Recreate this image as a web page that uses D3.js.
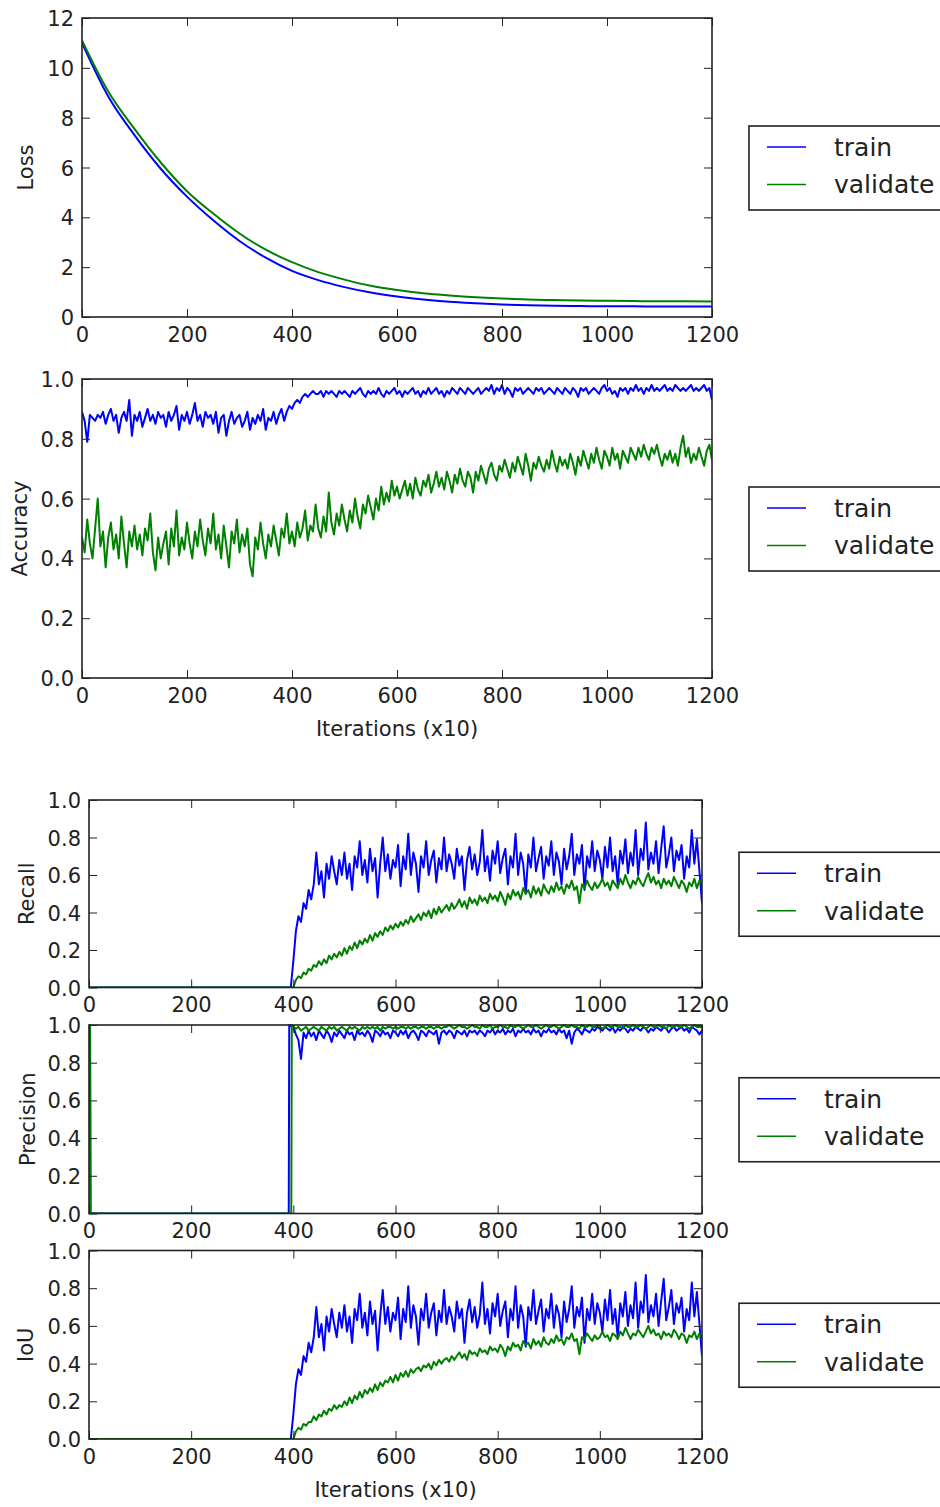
<!DOCTYPE html>
<html>
<head>
<meta charset="utf-8">
<script src="https://cdnjs.cloudflare.com/ajax/libs/d3/7.8.5/d3.min.js"></script>
<style>
body { margin: 0; background: #fff; }
svg { display: block; font-family: "DejaVu Sans", sans-serif; }
</style>
</head>
<body>
<div id="chart"></div>
<script>
// ---- data ----
var xTicks = [0, 200, 400, 600, 800, 1000, 1200];
var seriesNames = ["train", "validate"];

// loss, every 50 iterations
var lossIters = d3.range(0, 1201, 50);
var lossTrain = [11.0, 8.85, 7.3, 5.95, 4.83, 3.88, 3.05, 2.38, 1.85, 1.48, 1.2, 0.98, 0.82, 0.7, 0.61, 0.55, 0.5, 0.47, 0.45, 0.44, 0.43, 0.43, 0.42, 0.42, 0.42];
var lossVal = [11.1, 9.05, 7.55, 6.2, 5.05, 4.15, 3.35, 2.7, 2.2, 1.8, 1.5, 1.25, 1.08, 0.95, 0.86, 0.79, 0.74, 0.7, 0.68, 0.66, 0.65, 0.64, 0.63, 0.63, 0.62];

// accuracy, every 5 iterations
var accIters = d3.range(0, 1201, 5);
var accTrain = [
0.89,0.86,0.79,0.88,0.87,0.86,0.88,0.87,0.89,0.85,0.88,0.90,0.86,0.88,0.82,0.87,0.89,0.86,0.93,0.81,
0.88,0.86,0.89,0.84,0.87,0.90,0.86,0.88,0.85,0.89,0.87,0.88,0.84,0.89,0.86,0.88,0.91,0.83,0.88,0.86,
0.89,0.85,0.88,0.92,0.86,0.88,0.84,0.89,0.87,0.88,0.85,0.89,0.82,0.87,0.88,0.81,0.86,0.89,0.85,0.87,
0.88,0.84,0.86,0.89,0.83,0.87,0.85,0.88,0.86,0.90,0.83,0.87,0.86,0.89,0.85,0.88,0.90,0.86,0.89,0.91,
0.90,0.92,0.93,0.92,0.94,0.95,0.94,0.95,0.96,0.95,
0.95,0.96,0.94,0.96,0.95,0.96,0.95,0.94,0.96,0.95,0.96,0.95,0.94,0.96,0.95,0.96,0.97,0.95,0.94,0.96,
0.95,0.96,0.95,0.97,0.95,0.94,0.96,0.95,0.96,0.97,0.95,0.96,0.94,0.96,0.95,0.96,0.97,0.95,0.96,0.94,
0.96,0.95,0.97,0.95,0.96,0.97,0.95,0.96,0.94,0.96,0.95,0.97,0.96,0.95,0.97,0.96,0.95,0.97,0.96,0.95,
0.96,0.97,0.95,0.96,0.97,0.96,0.98,0.95,0.97,0.96,0.98,0.95,0.97,0.96,0.94,0.97,0.96,0.97,0.95,0.96,
0.97,0.96,0.95,0.97,0.96,0.97,0.95,0.96,0.97,0.96,0.95,0.97,0.96,0.95,0.97,0.96,0.95,0.97,0.96,0.94,
0.97,0.96,0.97,0.95,0.96,0.97,0.96,0.95,0.97,0.98,0.96,0.97,0.95,0.96,0.94,0.97,0.96,0.97,0.95,0.97,
0.96,0.98,0.96,0.97,0.95,0.97,0.96,0.98,0.96,0.97,0.96,0.97,0.98,0.96,0.97,0.96,0.98,0.97,0.96,0.97,
0.96,0.97,0.98,0.96,0.97,0.96,0.97,0.98,0.96,0.97,
0.93];
var accVal = [
0.47,0.42,0.53,0.45,0.40,0.50,0.60,0.44,0.49,0.37,0.47,0.52,0.43,0.48,0.40,0.54,0.45,0.37,0.49,0.44,
0.51,0.43,0.48,0.41,0.50,0.46,0.55,0.42,0.36,0.47,0.40,0.45,0.49,0.38,0.50,0.44,0.56,0.41,0.47,0.43,
0.52,0.45,0.40,0.49,0.44,0.53,0.46,0.41,0.50,0.45,0.55,0.43,0.48,0.40,0.51,0.44,0.37,0.49,0.45,0.53,
0.42,0.48,0.44,0.50,0.38,0.34,0.47,0.43,0.52,0.45,0.40,0.48,0.44,0.51,0.46,0.41,0.50,0.47,0.55,0.45,
0.49,0.44,0.52,0.47,0.50,0.56,0.46,0.51,0.49,0.58,0.50,0.47,0.54,0.49,0.62,0.52,0.48,0.55,0.51,0.58,
0.53,0.49,0.56,0.52,0.60,0.54,0.50,0.58,0.55,0.61,0.57,0.53,0.60,0.56,0.64,0.58,0.62,0.59,0.66,0.61,
0.64,0.60,0.63,0.66,0.61,0.65,0.60,0.67,0.63,0.61,0.66,0.64,0.68,0.62,0.65,0.69,0.64,0.67,0.63,0.69,
0.66,0.62,0.68,0.65,0.70,0.66,0.64,0.69,0.67,0.62,0.69,0.66,0.71,0.68,0.65,0.70,0.72,0.68,0.66,0.71,
0.69,0.73,0.70,0.67,0.72,0.69,0.74,0.71,0.68,0.75,0.71,0.66,0.72,0.70,0.74,0.71,0.69,0.73,0.70,0.76,
0.72,0.69,0.74,0.71,0.73,0.70,0.75,0.72,0.68,0.74,0.71,0.76,0.73,0.70,0.75,0.72,0.77,0.73,0.70,0.76,
0.74,0.71,0.77,0.73,0.75,0.70,0.76,0.74,0.72,0.77,0.75,0.73,0.77,0.74,0.78,0.75,0.73,0.77,0.75,0.78,
0.74,0.71,0.75,0.73,0.76,0.72,0.75,0.71,0.77,0.81,0.74,0.77,0.72,0.75,0.73,0.77,0.74,0.71,0.76,0.78,
0.73];

// recall / precision / IoU: flat part, then every 5 iterations from 400
var bodyIters = d3.range(400, 1201, 5);
var zeroIters = [0, 395];
var zeroVals = [0, 0];

var recallTrain = [
0.14,0.30,0.38,0.35,0.45,0.42,0.52,0.47,0.55,0.72,0.55,0.62,0.48,0.66,0.58,0.70,0.62,0.55,0.68,0.60,
0.72,0.58,0.66,0.52,0.70,0.64,0.78,0.60,0.68,0.56,0.74,0.62,0.69,0.48,0.66,0.80,0.62,0.71,0.58,0.68,
0.64,0.76,0.54,0.70,0.63,0.82,0.60,0.72,0.66,0.51,0.70,0.64,0.78,0.60,0.68,0.73,0.56,0.69,0.63,0.80,
0.62,0.71,0.66,0.58,0.74,0.65,0.70,0.52,0.68,0.75,0.63,0.71,0.60,0.67,0.84,0.62,0.70,0.57,0.73,0.66,
0.78,0.61,0.69,0.74,0.55,0.70,0.64,0.82,0.60,0.72,0.66,0.50,0.71,0.64,0.80,0.62,0.69,0.75,0.58,0.70,
0.65,0.78,0.60,0.72,0.67,0.55,0.74,0.63,0.70,0.82,0.60,0.71,0.66,0.76,0.52,0.70,0.64,0.78,0.62,0.73,
0.68,0.58,0.75,0.64,0.80,0.62,0.70,0.55,0.73,0.66,0.79,0.61,0.72,0.65,0.84,0.60,0.74,0.68,0.88,0.63,
0.72,0.66,0.78,0.61,0.74,0.86,0.64,0.71,0.80,0.62,0.73,0.68,0.76,0.58,0.70,0.64,0.84,0.66,0.79,0.62,
0.45];
var recallVal = [
0.00,0.04,0.06,0.05,0.08,0.07,0.10,0.09,0.12,0.11,0.14,0.12,0.15,0.13,0.17,0.15,0.18,0.16,0.19,0.17,
0.21,0.18,0.22,0.20,0.24,0.21,0.25,0.23,0.26,0.24,0.28,0.25,0.29,0.27,0.30,0.28,0.32,0.30,0.33,0.31,
0.34,0.32,0.35,0.33,0.36,0.34,0.38,0.35,0.37,0.39,0.36,0.40,0.38,0.41,0.37,0.42,0.39,0.43,0.40,0.42,
0.44,0.41,0.45,0.42,0.44,0.47,0.43,0.46,0.42,0.48,0.45,0.47,0.44,0.49,0.46,0.48,0.45,0.50,0.47,0.49,
0.46,0.51,0.48,0.44,0.50,0.47,0.52,0.49,0.51,0.47,0.53,0.50,0.52,0.48,0.54,0.50,0.53,0.49,0.55,0.52,
0.50,0.54,0.51,0.56,0.52,0.54,0.50,0.55,0.53,0.57,0.52,0.54,0.45,0.55,0.53,0.57,0.54,0.52,0.56,0.53,
0.55,0.58,0.54,0.56,0.52,0.57,0.55,0.53,0.58,0.55,0.60,0.56,0.53,0.57,0.55,0.59,0.56,0.54,0.58,0.61,
0.56,0.59,0.55,0.57,0.53,0.58,0.55,0.57,0.54,0.59,0.56,0.53,0.57,0.55,0.51,0.56,0.54,0.58,0.53,0.57,
0.55];

// precision: spike at the very start, flat zero, jump just before 400
var precTrainHeadIters = [0, 2, 3, 391, 392];
var precValHeadIters = [0, 2, 3, 396, 397];
var precHeadVals = [1, 1, 0, 0, 1];
var precTrain = [
0.99,0.95,0.92,0.82,0.96,0.93,0.97,0.94,0.96,0.92,0.97,0.95,0.93,0.97,0.95,0.91,0.96,0.94,0.97,0.95,
0.93,0.97,0.95,0.96,0.92,0.97,0.95,0.96,0.94,0.97,0.95,0.91,0.97,0.96,0.94,0.97,0.95,0.96,0.93,0.97,
0.96,0.94,0.97,0.95,0.97,0.93,0.96,0.97,0.95,0.92,0.97,0.96,0.94,0.97,0.96,0.95,0.97,0.90,0.96,0.97,
0.95,0.97,0.96,0.93,0.97,0.96,0.95,0.97,0.94,0.97,0.96,0.97,0.95,0.97,0.96,0.94,0.97,0.96,0.98,0.95,
0.97,0.96,0.98,0.95,0.97,0.96,0.98,0.94,0.97,0.96,0.98,0.96,0.97,0.95,0.98,0.96,0.97,0.94,0.97,0.96,
0.98,0.96,0.97,0.95,0.98,0.96,0.97,0.93,0.97,0.90,0.96,0.98,0.97,0.95,0.98,0.97,0.96,0.98,0.97,0.99,
0.98,0.97,0.99,0.98,0.97,0.99,0.96,0.98,0.97,0.99,0.98,0.96,0.98,0.97,0.99,0.98,0.97,0.99,0.98,0.96,
0.98,0.97,0.99,0.98,0.97,0.99,0.98,0.96,0.98,0.99,0.97,0.98,0.99,0.97,0.98,0.96,0.99,0.98,0.97,0.95,
0.97];
var precVal = [
0.99,0.98,0.99,0.97,0.98,0.99,0.97,0.98,0.99,0.98,0.97,0.99,0.98,0.97,0.99,0.98,0.99,0.97,0.98,0.99,
0.98,0.97,0.99,0.98,0.99,0.98,0.97,0.99,0.98,0.99,0.98,0.99,0.98,0.99,0.97,0.99,0.98,0.99,0.99,0.98,
0.99,0.98,0.99,0.99,0.98,0.99,0.98,0.99,0.99,0.98,0.99,0.99,0.98,0.99,0.99,0.98,0.99,0.99,0.98,0.99,
0.99,1.00,0.99,0.98,0.99,1.00,0.99,0.99,0.98,0.99,1.00,0.99,0.99,0.98,1.00,0.99,0.99,1.00,0.98,0.99,
0.99,1.00,0.99,0.99,0.98,1.00,0.99,0.99,1.00,0.99,0.98,0.99,1.00,0.99,0.99,1.00,0.99,0.98,0.99,1.00,
0.99,0.99,1.00,0.99,0.98,0.99,1.00,0.99,0.99,1.00,0.99,0.99,0.98,1.00,0.99,0.99,1.00,0.99,0.99,1.00,
0.99,0.98,0.99,1.00,0.99,0.99,1.00,0.99,0.99,0.98,1.00,0.99,0.99,1.00,0.99,0.99,1.00,0.99,0.98,0.99,
1.00,0.99,0.99,1.00,0.99,0.99,0.98,1.00,0.99,0.99,1.00,0.99,0.99,1.00,0.99,0.98,0.99,1.00,0.99,0.99,
0.99];

var iouTrain = [
0.13,0.29,0.37,0.34,0.44,0.41,0.51,0.46,0.54,0.70,0.54,0.61,0.47,0.65,0.57,0.69,0.61,0.54,0.67,0.59,
0.71,0.57,0.65,0.51,0.69,0.63,0.77,0.59,0.67,0.55,0.73,0.61,0.68,0.47,0.65,0.79,0.61,0.70,0.57,0.67,
0.63,0.75,0.53,0.69,0.62,0.81,0.59,0.71,0.65,0.50,0.69,0.63,0.77,0.59,0.67,0.72,0.55,0.68,0.62,0.79,
0.61,0.70,0.65,0.57,0.73,0.64,0.69,0.51,0.67,0.74,0.62,0.70,0.59,0.66,0.83,0.61,0.69,0.56,0.72,0.65,
0.77,0.60,0.68,0.73,0.54,0.69,0.63,0.81,0.59,0.71,0.65,0.49,0.70,0.63,0.79,0.61,0.68,0.74,0.57,0.69,
0.64,0.77,0.59,0.71,0.66,0.54,0.73,0.62,0.69,0.81,0.59,0.70,0.65,0.75,0.51,0.69,0.63,0.77,0.61,0.72,
0.67,0.57,0.74,0.63,0.79,0.61,0.69,0.54,0.72,0.65,0.78,0.60,0.71,0.64,0.83,0.59,0.73,0.67,0.87,0.62,
0.71,0.65,0.77,0.60,0.73,0.85,0.63,0.70,0.79,0.61,0.72,0.67,0.75,0.57,0.69,0.63,0.83,0.65,0.78,0.61,
0.44];
var iouVal = [
0.00,0.04,0.06,0.05,0.08,0.07,0.09,0.09,0.12,0.10,0.13,0.12,0.15,0.13,0.16,0.15,0.18,0.16,0.18,0.17,
0.20,0.18,0.22,0.19,0.23,0.21,0.25,0.22,0.26,0.24,0.27,0.25,0.29,0.26,0.30,0.28,0.31,0.30,0.33,0.30,
0.34,0.31,0.35,0.33,0.36,0.33,0.37,0.35,0.37,0.38,0.36,0.39,0.38,0.40,0.37,0.41,0.39,0.42,0.40,0.42,
0.43,0.41,0.44,0.42,0.44,0.46,0.43,0.45,0.42,0.47,0.45,0.46,0.44,0.48,0.46,0.47,0.45,0.49,0.47,0.48,
0.46,0.50,0.48,0.44,0.49,0.47,0.51,0.49,0.50,0.47,0.52,0.50,0.51,0.48,0.53,0.50,0.52,0.49,0.54,0.51,
0.50,0.53,0.51,0.55,0.52,0.53,0.50,0.54,0.53,0.56,0.52,0.53,0.45,0.54,0.53,0.56,0.54,0.52,0.55,0.53,
0.54,0.57,0.54,0.55,0.52,0.56,0.55,0.53,0.57,0.55,0.59,0.56,0.53,0.56,0.55,0.58,0.56,0.54,0.57,0.60,
0.56,0.58,0.55,0.56,0.53,0.57,0.55,0.56,0.54,0.58,0.56,0.53,0.56,0.55,0.51,0.55,0.54,0.57,0.53,0.56,
0.54];

// ---- drawing ----
var blue = "#0000ff", green = "#008000", ink = "#222";

function pts(iters, vals) { return d3.zip(iters, vals); }

var panels = [
  { label: "Loss", left: 82, top: 18, right: 712, bottom: 317, yMax: 12, yTicks: d3.range(0, 13, 2), fmt: d3.format("d"),
    labelX: 33, curve: d3.curveMonotoneX, lw: 2,
    series: [pts(lossIters, lossTrain), pts(lossIters, lossVal)] },
  { label: "Accuracy", left: 82, top: 379, right: 712, bottom: 678, yMax: 1, yTicks: d3.range(0, 1.01, 0.2), fmt: d3.format(".1f"),
    labelX: 27, xTitle: true, lw: 2,
    series: [pts(accIters, accTrain), pts(accIters, accVal)] },
  { label: "Recall", left: 89, top: 800, right: 702, bottom: 987.5, yMax: 1, yTicks: d3.range(0, 1.01, 0.2), fmt: d3.format(".1f"),
    labelX: 34, lw: 2,
    series: [pts(zeroIters, zeroVals).concat(pts(bodyIters, recallTrain)),
             pts(zeroIters, zeroVals).concat(pts(bodyIters, recallVal))] },
  { label: "Precision", left: 89, top: 1025, right: 702, bottom: 1213.5, yMax: 1, yTicks: d3.range(0, 1.01, 0.2), fmt: d3.format(".1f"),
    labelX: 35, lw: 2,
    series: [pts(precTrainHeadIters, precHeadVals).concat(pts(bodyIters, precTrain)),
             pts(precValHeadIters, precHeadVals).concat(pts(bodyIters, precVal))] },
  { label: "IoU", left: 89, top: 1250.5, right: 702, bottom: 1439, yMax: 1, yTicks: d3.range(0, 1.01, 0.2), fmt: d3.format(".1f"),
    labelX: 33, xTitle: true, lw: 2,
    series: [pts(zeroIters, zeroVals).concat(pts(bodyIters, iouTrain)),
             pts(zeroIters, zeroVals).concat(pts(bodyIters, iouVal))] }
];

var svg = d3.select("#chart").append("svg")
  .attr("width", 940).attr("height", 1507)
  .style("background", "#fff");

panels.forEach(function(p, pi) {
  var x = d3.scaleLinear().domain([0, 1200]).range([p.left, p.right]);
  var y = d3.scaleLinear().domain([0, p.yMax]).range([p.bottom, p.top]);
  var g = svg.append("g");

  g.append("clipPath").attr("id", "clip" + pi).append("rect")
    .attr("x", p.left).attr("y", p.top - 1)
    .attr("width", p.right - p.left).attr("height", p.bottom - p.top + 1);

  var line = d3.line().x(function(d) { return x(d[0]); }).y(function(d) { return y(d[1]); });
  if (p.curve) line.curve(p.curve);

  var colors = [blue, green];
  p.series.forEach(function(s, i) {
    g.append("path").datum(s)
      .attr("clip-path", "url(#clip" + pi + ")")
      .attr("fill", "none")
      .attr("stroke", colors[i])
      .attr("stroke-width", p.lw)
      .attr("stroke-linejoin", "round")
      .attr("d", line);
  });

  // axes: inward ticks on all four sides, labels bottom + left
  var bottomAx = g.append("g").attr("transform", "translate(0," + p.bottom + ")")
    .call(d3.axisBottom(x).tickValues(xTicks).tickSizeInner(-8).tickSizeOuter(0).tickPadding(10).tickFormat(d3.format("d")));
  var topAx = g.append("g").attr("transform", "translate(0," + p.top + ")")
    .call(d3.axisTop(x).tickValues(xTicks).tickSizeInner(-8).tickSizeOuter(0).tickFormat(""));
  var leftAx = g.append("g").attr("transform", "translate(" + p.left + ",0)")
    .call(d3.axisLeft(y).tickValues(p.yTicks).tickSizeInner(-8).tickSizeOuter(0).tickPadding(8).tickFormat(p.fmt));
  var rightAx = g.append("g").attr("transform", "translate(" + p.right + ",0)")
    .call(d3.axisRight(y).tickValues(p.yTicks).tickSizeInner(-8).tickSizeOuter(0).tickFormat(""));

  [bottomAx, topAx, leftAx, rightAx].forEach(function(a) {
    a.select(".domain").remove();
    a.selectAll("line").attr("stroke", ink).attr("stroke-width", 1);
    a.selectAll("text").attr("fill", ink).style("font-size", "21px").style("font-family", "DejaVu Sans, sans-serif");
  });
  leftAx.selectAll("text").attr("dy", "0.36em");

  g.append("rect")
    .attr("x", p.left).attr("y", p.top)
    .attr("width", p.right - p.left).attr("height", p.bottom - p.top)
    .attr("fill", "none").attr("stroke", ink).attr("stroke-width", 1.6);

  var cy = (p.top + p.bottom) / 2;
  g.append("text")
    .attr("transform", "translate(" + p.labelX + "," + cy + ") rotate(-90)")
    .attr("text-anchor", "middle")
    .attr("fill", ink)
    .style("font-size", "21px")
    .text(p.label);

  if (p.xTitle) {
    g.append("text")
      .attr("x", (p.left + p.right) / 2).attr("y", p.bottom + 58)
      .attr("text-anchor", "middle")
      .attr("fill", ink)
      .style("font-size", "21px")
      .text("Iterations (x10)");
  }

  // legend, partly cut off by the right edge
  var ly = cy - 41.5;
  var lg = g.append("g");
  lg.append("rect")
    .attr("x", p.right + 37).attr("y", ly)
    .attr("width", 260).attr("height", 84)
    .attr("fill", "#fff").attr("stroke", ink).attr("stroke-width", 1.6);
  seriesNames.forEach(function(n, i) {
    var yy = ly + 21 + i * 37.5;
    lg.append("line")
      .attr("x1", p.right + 55).attr("x2", p.right + 94)
      .attr("y1", yy).attr("y2", yy)
      .attr("stroke", colors[i]).attr("stroke-width", 1.5);
    lg.append("text")
      .attr("x", p.right + 122).attr("y", yy).attr("dy", "0.35em")
      .attr("fill", ink)
      .style("font-size", "25px")
      .text(n);
  });
});
</script>
</body>
</html>
